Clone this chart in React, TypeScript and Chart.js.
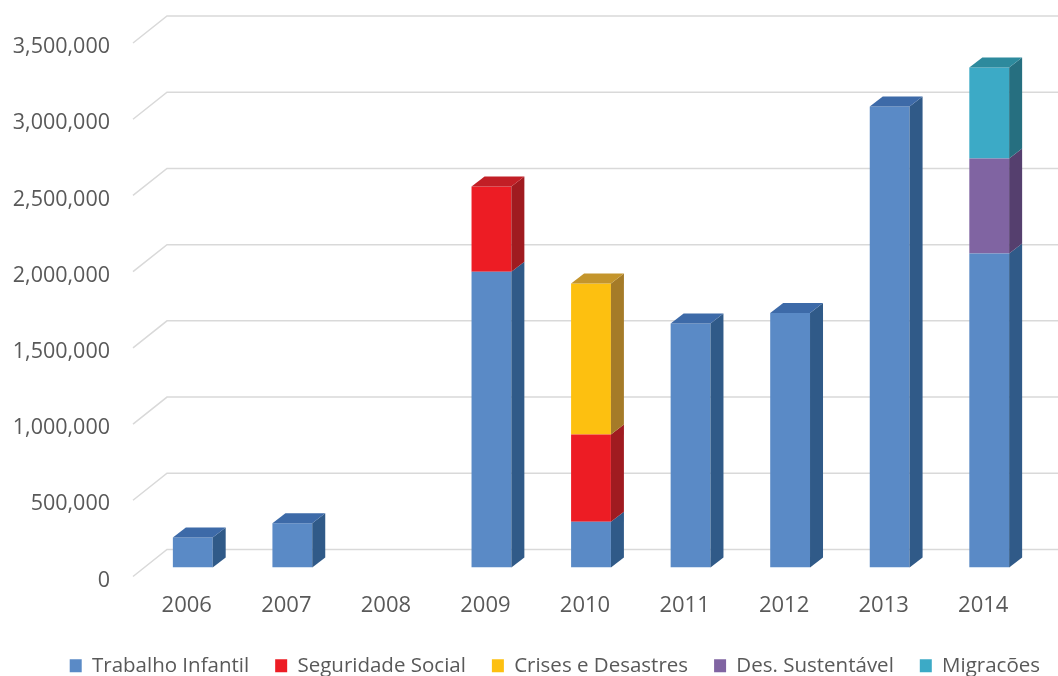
import React, { useEffect, useRef } from "react";
import { Chart, registerables } from "chart.js";

Chart.register(...registerables);

const years = ["2006", "2007", "2008", "2009", "2010", "2011", "2012", "2013", "2014"];
const trabalhoInfantil = [197000, 290000, 0, 1940000, 300000, 1600000, 1670000, 3025000, 2060000];
const seguridadeSocial = [0, 0, 0, 560000, 573000, 0, 0, 0, 0];
const crisesDesastres = [0, 0, 0, 0, 990000, 0, 0, 0, 0];
const desSustentavel = [0, 0, 0, 0, 0, 0, 0, 0, 624000];
const migracoes = [0, 0, 0, 0, 0, 0, 0, 0, 597000];
const yTicks = [0, 500000, 1000000, 1500000, 2000000, 2500000, 3000000, 3500000];

const seriesNames = ["Trabalho Infantil", "Seguridade Social", "Crises e Desastres", "Des. Sustentável", "Migracões"];
const frontColors = ["#5A8AC6", "#ED1C24", "#FDC010", "#8064A2", "#3CAAC6"];
const sideColors = ["#305A88", "#A01B20", "#A57B28", "#553F6E", "#266F80"];
const topColors = ["#3D6AA8", "#C21F26", "#C4952C", "#6A5088", "#2D8A9D"];

const DX = 13;
const DY = 10;

const grid3d = {
  id: "grid3d",
  beforeDatasetsDraw(chart: any) {
    const { ctx, chartArea, scales } = chart;
    const y = scales.y;
    ctx.save();
    ctx.strokeStyle = "#D9D9D9";
    ctx.lineWidth = 1.5;
    const backX = chartArea.left + 24;
    const frontX = chartArea.left - 10;
    for (const v of yTicks) {
      const py = y.getPixelForValue(v);
      ctx.beginPath();
      ctx.moveTo(frontX, py + 9);
      ctx.lineTo(backX, py - 18);
      ctx.lineTo(chart.width, py - 18);
      ctx.stroke();
    }
    ctx.restore();
  },
};

const bars3d = {
  id: "bars3d",
  afterDatasetsDraw(chart: any) {
    const { ctx } = chart;
    const n = chart.data.labels.length;
    ctx.save();
    for (let i = 0; i < n; i++) {
      let topDs = -1;
      chart.data.datasets.forEach((ds: any, d: number) => {
        if (ds.data[i] > 0) topDs = d;
      });
      chart.data.datasets.forEach((ds: any, d: number) => {
        if (!(ds.data[i] > 0)) return;
        const el: any = chart.getDatasetMeta(d).data[i];
        const left = el.x - el.width / 2;
        const right = el.x + el.width / 2;
        const top = el.y;
        const bottom = el.base;
        ctx.fillStyle = sideColors[d];
        ctx.beginPath();
        ctx.moveTo(right, top);
        ctx.lineTo(right + DX, top - DY);
        ctx.lineTo(right + DX, bottom - DY);
        ctx.lineTo(right, bottom);
        ctx.closePath();
        ctx.fill();
        if (d === topDs) {
          ctx.fillStyle = topColors[d];
          ctx.beginPath();
          ctx.moveTo(left, top);
          ctx.lineTo(left + DX, top - DY);
          ctx.lineTo(right + DX, top - DY);
          ctx.lineTo(right, top);
          ctx.closePath();
          ctx.fill();
        }
      });
    }
    ctx.restore();
  },
};

export default function App() {
  const ref = useRef<HTMLCanvasElement | null>(null);
  useEffect(() => {
    if (!ref.current) return;
    const seriesData = [trabalhoInfantil, seguridadeSocial, crisesDesastres, desSustentavel, migracoes];
    const chart = new Chart(ref.current, {
      type: "bar",
      data: {
        labels: years,
        datasets: seriesData.map((d, k) => ({
          label: seriesNames[k],
          data: d,
          backgroundColor: frontColors[k],
          borderWidth: 0,
          barPercentage: 0.4,
          categoryPercentage: 1,
        })),
      },
      options: {
        responsive: false,
        animation: false,
        layout: { padding: { top: 34, right: -8, bottom: -10, left: 0 } },
        plugins: {
          tooltip: { enabled: false },
          legend: {
            position: "bottom",
            align: "end",
            labels: {
              font: { family: "Open Sans", size: 20.5 },
              color: "#595959",
              boxWidth: 12,
              boxHeight: 13,
              padding: 26,
            },
          },
        },
        scales: {
          x: {
            stacked: true,
            grid: { display: false, drawTicks: false },
            border: { display: false },
            ticks: {
              font: { family: "Open Sans", size: 22 },
              color: "#595959",
              padding: 25,
              labelOffset: -6,
            },
            afterFit(scale: any) {
              scale.height = 62;
              scale.paddingLeft = 0;
              scale.paddingRight = 19;
            },
          },
          y: {
            stacked: true,
            min: 0,
            max: 3500000,
            afterBuildTicks(scale: any) {
              scale.ticks = yTicks.map((v) => ({ value: v }));
            },
            grid: { display: false, drawTicks: false },
            border: { display: false },
            ticks: {
              font: { family: "Open Sans", size: 21.5 },
              color: "#595959",
              padding: 33,
              labelOffset: 13,
              callback: (v: any) => Number(v).toLocaleString("en-US"),
            },
            afterFit(scale: any) {
              scale.width = 143;
              scale.paddingTop = 0;
              scale.paddingBottom = 0;
            },
          },
        },
      },
      plugins: [grid3d, bars3d],
    });
    return () => chart.destroy();
  }, []);
  return (
    <div style={{ position: "fixed", left: 0, top: 0, width: 1058, height: 676, background: "#fff" }}>
      <canvas ref={ref} width={1058} height={676} style={{ display: "block" }} />
    </div>
  );
}
